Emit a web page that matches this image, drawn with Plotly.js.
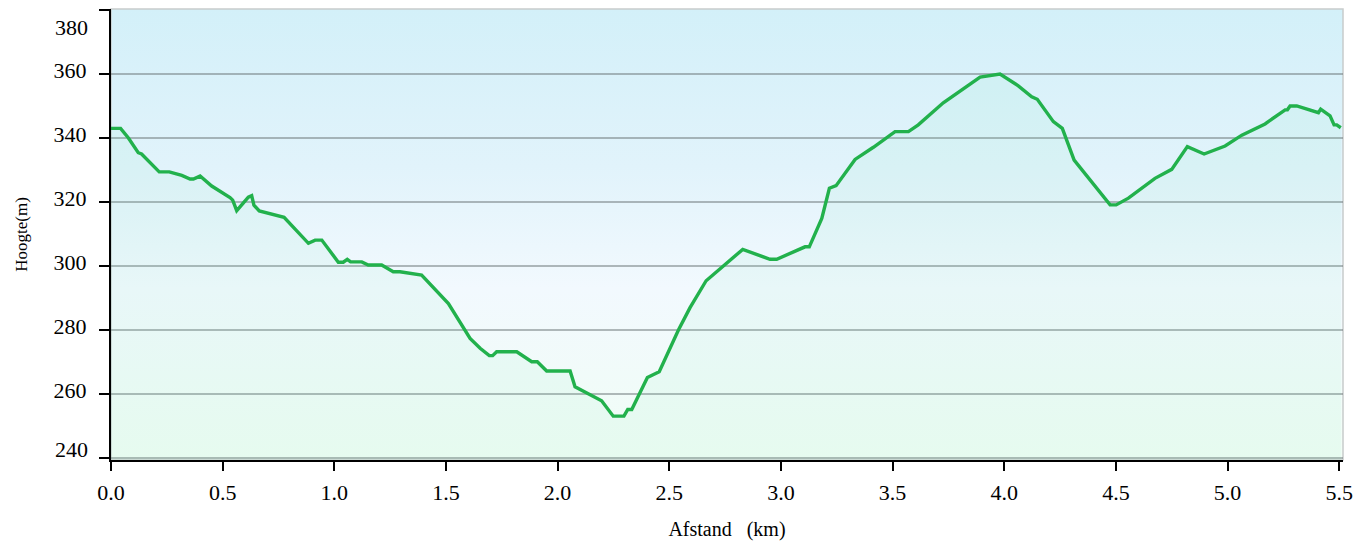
<!DOCTYPE html>
<html>
<head>
<meta charset="utf-8">
<script src="https://cdn.plot.ly/plotly-3.0.1.min.js"></script>
<style>
  html, body { margin: 0; padding: 0; background: #ffffff; }
  #wrap { position: relative; width: 1359px; height: 546px; }
  #bg { position: absolute; z-index: 0;
        background: linear-gradient(to bottom, #d3f0f9 0%, #e1f3fb 35%, #f2f9fe 62%, #f0fdf5 100%); }
  #chart { position: absolute; left: 0; top: 0; z-index: 1; width: 1359px; height: 546px; }
</style>
</head>
<body>
<div id="wrap"><div id="bg"></div><div id="chart"></div></div>
<script>
// distance along the route (km)
const distanceKm = [0, 0.043, 0.078, 0.122, 0.137, 0.216, 0.261, 0.317, 0.354, 0.369, 0.399, 0.451, 0.533, 0.545, 0.563, 0.615, 0.63, 0.64, 0.664, 0.754, 0.775, 0.884, 0.914, 0.944, 1.018, 1.04, 1.058, 1.073, 1.123, 1.152, 1.212, 1.264, 1.294, 1.391, 1.511, 1.608, 1.653, 1.694, 1.709, 1.727, 1.817, 1.884, 1.909, 1.951, 2.056, 2.078, 2.197, 2.249, 2.297, 2.314, 2.332, 2.402, 2.455, 2.541, 2.593, 2.665, 2.829, 2.951, 2.981, 3.108, 3.127, 3.183, 3.217, 3.247, 3.332, 3.414, 3.511, 3.571, 3.615, 3.727, 3.892, 3.981, 4.063, 4.123, 4.148, 4.22, 4.26, 4.313, 4.474, 4.501, 4.556, 4.675, 4.75, 4.82, 4.895, 4.989, 5.064, 5.168, 5.258, 5.268, 5.28, 5.31, 5.407, 5.417, 5.459, 5.477, 5.489, 5.507];
// elevation (m)
const elevationM = [343, 343, 340, 335.4, 335, 329.4, 329.4, 328.3, 327.2, 327.2, 328.1, 325, 321.4, 320.6, 317.3, 321.5, 322, 319, 317.2, 315.4, 315.2, 307.1, 308.1, 308.1, 301.2, 301.2, 302.1, 301.3, 301.3, 300.3, 300.3, 298.2, 298.2, 297.2, 288.3, 277.4, 274.3, 272, 272, 273.2, 273.2, 270.1, 270.1, 267.2, 267.2, 262.3, 257.9, 253.1, 253.1, 255.2, 255.2, 265.2, 267, 280, 287, 295.4, 305.2, 302.1, 302.1, 306, 306, 314.9, 324.3, 325.1, 333.3, 337.1, 342, 342, 344.1, 351, 359, 360, 356.3, 352.9, 352.1, 345.1, 343, 333.1, 319.1, 319.1, 321.2, 327.4, 330.2, 337.3, 335, 337.5, 340.9, 344.4, 348.8, 348.8, 350, 350, 347.9, 349, 346.9, 344.1, 344.1, 343.2];

const xTickVals = [0, 0.5, 1, 1.5, 2, 2.5, 3, 3.5, 4, 4.5, 5, 5.5];
const xTickLabels = ['0.0', '0.5', '1.0', '1.5', '2.0', '2.5', '3.0', '3.5', '4.0', '4.5', '5.0', '5.5'];
const yTickVals = [240, 260, 280, 300, 320, 340, 360, 380];
const yTickLabels = ['240', '260', '280', '300', '320', '340', '360', '380'];
const xRange = [0, 5.517];
const yRange = [239.4, 380.3];

const W = 1359, H = 546;
const margin = { l: 111, r: 16, t: 9, b: 86 };
const bg = document.getElementById('bg');
bg.style.left = margin.l + 'px';
bg.style.top = margin.t + 'px';
bg.style.width = (W - margin.l - margin.r) + 'px';
bg.style.height = (H - margin.t - margin.b) + 'px';

const FONT = 'Liberation Serif, Times New Roman, serif';
const TICK = 22;

const trace = {
  x: distanceKm,
  y: elevationM,
  type: 'scatter',
  mode: 'lines',
  line: { color: '#22b14c', width: 3.4 },
  fill: 'tozeroy',
  fillcolor: 'rgba(110,225,175,0.08)',
  hoverinfo: 'x+y'
};

const last = yTickVals.length - 1;
const layout = {
  width: W, height: H,
  margin: margin,
  paper_bgcolor: 'rgba(0,0,0,0)',
  plot_bgcolor: 'rgba(0,0,0,0)',
  showlegend: false,
  font: { family: FONT, color: '#000000', size: TICK },
  xaxis: {
    range: xRange,
    tickvals: xTickVals, ticktext: xTickLabels,
    ticks: 'outside', ticklen: 9, tickwidth: 2, tickcolor: '#000',
    showline: true, linecolor: '#000', linewidth: 2,
    showgrid: false, zeroline: false,
    tickfont: { family: FONT, size: TICK, color: '#000' },
    ticklabelstandoff: 3,
    title: { text: 'Afstand\u00a0\u00a0\u00a0(km)', font: { family: FONT, size: 20, color: '#000' }, standoff: 18 },
    fixedrange: true
  },
  yaxis: {
    range: yRange,
    tickvals: yTickVals,
    ticktext: yTickLabels.map((t, i) => (i === 0 || i === last) ? '' : t),
    ticks: 'outside', ticklen: 10, tickwidth: 2, tickcolor: '#000',
    showline: true, linecolor: '#000', linewidth: 2,
    showgrid: true, gridcolor: 'rgba(105,115,118,0.5)', gridwidth: 1.8,
    zeroline: false,
    tickfont: { family: FONT, size: TICK, color: '#000' },
    ticklabelshift: -4,
    ticklabelstandoff: 8,
    title: { text: 'Hoogte(m)', font: { family: FONT, size: 17, color: '#000' }, standoff: 22 },
    fixedrange: true
  },
  shapes: [{
    type: 'rect', xref: 'paper', yref: 'paper', x0: 0, x1: 1, y0: 0, y1: 1,
    line: { color: '#c8cccc', width: 1.5 }, layer: 'below'
  }],
  annotations: [
    { xref: 'paper', yref: 'y', x: 0, y: yTickVals[last], text: yTickLabels[last], showarrow: false,
      xanchor: 'right', yanchor: 'middle', xshift: -21, yshift: -18,
      font: { family: FONT, size: TICK, color: '#000' } },
    { xref: 'paper', yref: 'y', x: 0, y: yTickVals[0], text: yTickLabels[0], showarrow: false,
      xanchor: 'right', yanchor: 'middle', xshift: -21, yshift: 9,
      font: { family: FONT, size: TICK, color: '#000' } }
  ]
};

Plotly.newPlot('chart', [trace], layout, { displayModeBar: false, staticPlot: true });
</script>
</body>
</html>
